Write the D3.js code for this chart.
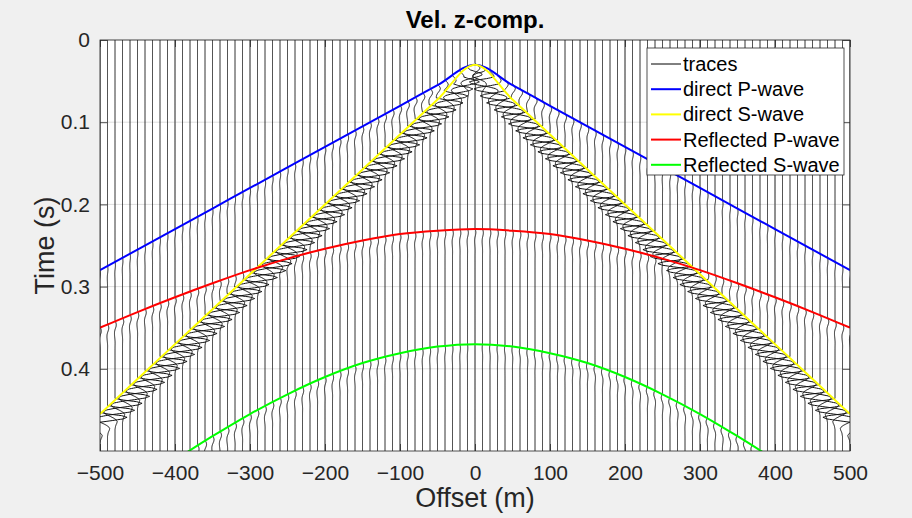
<!DOCTYPE html>
<html>
<head>
<meta charset="utf-8">
<script src="https://cdn.jsdelivr.net/npm/d3@7"></script>
<style>
  html, body { margin: 0; padding: 0; background: #f0f0f0; }
  svg { display: block; font-family: "Liberation Sans", Arial, sans-serif; }
</style>
</head>
<body>
<svg id="chart" width="912" height="518"></svg>
<script>
// ---------------- DATA ----------------
const titleText = "Vel. z-comp.";
const xLabel = "Offset (m)";
const yLabel = "Time (s)";
const xTicks = [-500, -400, -300, -200, -100, 0, 100, 200, 300, 400, 500];
const yTicks = [0, 0.1, 0.2, 0.3, 0.4];

// receiver offsets of the plotted traces (m)
const traceOffsets = [
  -500,-490,-480,-470,-460,-450,-440,-430,-420,-410,
  -400,-390,-380,-370,-360,-350,-340,-330,-320,-310,
  -300,-290,-280,-270,-260,-250,-240,-230,-220,-210,
  -200,-190,-180,-170,-160,-150,-140,-130,-120,-110,
  -100,-90,-80,-70,-60,-50,-40,-30,-20,-10,
  0,10,20,30,40,50,60,70,80,90,
  100,110,120,130,140,150,160,170,180,190,
  200,210,220,230,240,250,260,270,280,290,
  300,310,320,330,340,350,360,370,380,390,
  400,410,420,430,440,450,460,470,480,490,500
];

// offsets at which the travel-time curves are read (m)
const curveOffsets = [-500,-450,-400,-350,-300,-250,-200,-150,-100,-50,0,50,100,150,200,250,300,350,400,450,500];
// travel times (s)
const directP = [0.280,0.255,0.230,0.205,0.180,0.155,0.130,0.105,0.080,0.055,0.030,0.055,0.080,0.105,0.130,0.155,0.180,0.205,0.230,0.255,0.280];
const directS = [0.455,0.4125,0.370,0.3275,0.285,0.2425,0.200,0.1575,0.115,0.0725,0.030,0.0725,0.115,0.1575,0.200,0.2425,0.285,0.3275,0.370,0.4125,0.455];
const reflectedP = [0.350,0.331,0.313,0.296,0.280,0.266,0.254,0.244,0.236,0.232,0.230,0.232,0.236,0.244,0.254,0.266,0.280,0.296,0.313,0.331,0.350];
const reflectedS = [0.574,0.542,0.511,0.482,0.455,0.431,0.410,0.393,0.381,0.373,0.370,0.373,0.381,0.393,0.410,0.431,0.455,0.482,0.511,0.542,0.574];

// wiggle amplitudes of each arrival versus |offset|
const ampAbsOffsets = [0, 10, 20, 50, 100, 200, 300, 400, 500];
const ampDirectP    = [0.35, 0.32, 0.28, 0.20, 0.12, 0.06, 0.04, 0.03, 0.03];
const ampDirectS    = [0.00, 0.85, 1.40, 1.80, 1.90, 1.90, 1.90, 1.90, 1.90];
const ampReflP      = [0.06, 0.06, 0.06, 0.06, 0.07, 0.08, 0.09, 0.09, 0.09];
const ampReflS      = [0.01, 0.02, 0.03, 0.04, 0.06, 0.08, 0.10, 0.12, 0.12];

// source wavelet samples read from the wiggles (2 ms spacing, from the arrival)
const waveletTimes   = [0,0.002,0.004,0.006,0.008,0.010,0.012,0.014,0.016,0.018,0.020,0.022,0.024,0.026,0.028,0.030,0.032,0.034,0.036,0.038,0.040];
const waveletSamples = [0,0.30,0.80,1.00,0.85,0.45,0.00,-0.30,-0.42,-0.40,-0.30,-0.17,-0.05,0.04,0.08,0.07,0.04,0.02,0.01,0,0];
const waveletDelay = -0.002; // s, wavelet onset relative to the picked arrival

const timeSamples = d3.range(0, 0.5005, 0.0005); // sampling grid of the traces

const legendItems = [
  {label: "traces", color: "#000000", width: 1},
  {label: "direct P-wave", color: "#0000ff", width: 2},
  {label: "direct S-wave", color: "#ffff00", width: 2},
  {label: "Reflected P-wave", color: "#ff0000", width: 2},
  {label: "Reflected S-wave", color: "#00ff00", width: 2}
];

// ---------------- CHART ----------------
const svg = d3.select("#chart");
const L = 100, R = 850, T = 40, B = 451;
const x = d3.scaleLinear().domain([-500, 500]).range([L, R]);
const y = d3.scaleLinear().domain([0, 0.5]).range([T, B]);
const axisColor = "#262626";

svg.append("rect").attr("x", L).attr("y", T).attr("width", R - L).attr("height", B - T).attr("fill", "#ffffff");

svg.append("defs").append("clipPath").attr("id", "plotclip")
  .append("rect").attr("x", L).attr("y", T).attr("width", R - L).attr("height", B - T);

// grid
const grid = svg.append("g");
grid.selectAll(".gx").data(xTicks).enter().append("line")
  .attr("x1", d => x(d)).attr("x2", d => x(d)).attr("y1", T).attr("y2", B)
  .attr("stroke", "#dedede").attr("stroke-width", 1);
grid.selectAll(".gy").data(yTicks).enter().append("line")
  .attr("x1", L).attr("x2", R).attr("y1", d => y(d)).attr("y2", d => y(d))
  .attr("stroke", "#dedede").attr("stroke-width", 1);

// arrival time lookups
const tDP = d3.scaleLinear().domain(curveOffsets).range(directP);
const tDS = d3.scaleLinear().domain(curveOffsets).range(directS);
const tRP = d3.scaleLinear().domain(curveOffsets).range(reflectedP);
const tRS = d3.scaleLinear().domain(curveOffsets).range(reflectedS);
const aDP = d3.scaleLinear().domain(ampAbsOffsets).range(ampDirectP).clamp(true);
const aDS = d3.scaleLinear().domain(ampAbsOffsets).range(ampDirectS).clamp(true);
const aRP = d3.scaleLinear().domain(ampAbsOffsets).range(ampReflP).clamp(true);
const aRS = d3.scaleLinear().domain(ampAbsOffsets).range(ampReflS).clamp(true);
const wav = d3.scaleLinear().domain(waveletTimes).range(waveletSamples).clamp(true);
const wavelet = tau => {
  const u = tau - waveletDelay;
  return (u < waveletTimes[0] || u > waveletTimes[waveletTimes.length - 1]) ? 0 : wav(u);
};

const wiggleScale = 19; // metres of offset per unit amplitude

const traceLine = d3.line().x(d => x(d[0])).y(d => y(d[1]));
const traces = svg.append("g").attr("clip-path", "url(#plotclip)");
traceOffsets.forEach(off => {
  const s = Math.sign(off);
  const a = Math.abs(off);
  const pts = timeSamples.map(t => {
    const v = aDP(a) * wavelet(t - tDP(off))
            - s * aDS(a) * wavelet(t - tDS(off))
            + aRP(a) * wavelet(t - tRP(off))
            - s * aRS(a) * wavelet(t - tRS(off));
    return [off + wiggleScale * v, t];
  });
  traces.append("path").attr("d", traceLine(pts))
    .attr("fill", "none").attr("stroke", "#111").attr("stroke-width", 1);
});

// travel-time curves
const curveLine = d3.line().x(d => x(d[0])).y(d => y(d[1])).curve(d3.curveMonotoneX);
const curves = svg.append("g").attr("clip-path", "url(#plotclip)");
[[directP, "#0000ff"], [directS, "#ffff00"], [reflectedP, "#ff0000"], [reflectedS, "#00ff00"]].forEach(([vals, col]) => {
  curves.append("path").attr("d", curveLine(curveOffsets.map((o, i) => [o, vals[i]])))
    .attr("fill", "none").attr("stroke", col).attr("stroke-width", 2);
});

// axes
const fontSize = 21;
const xAxis = d3.axisBottom(x).tickValues(xTicks).tickSizeInner(-7).tickSizeOuter(0).tickPadding(14).tickFormat(d3.format("d"));
const gx = svg.append("g").attr("transform", `translate(0,${B})`).call(xAxis);
const yAxis = d3.axisLeft(y).tickValues(yTicks).tickSizeInner(-7).tickSizeOuter(0).tickPadding(10).tickFormat(d => d === 0 ? "0" : d3.format(".1f")(d));
const gy = svg.append("g").attr("transform", `translate(${L},0)`).call(yAxis);
const gxt = svg.append("g").attr("transform", `translate(0,${T})`).call(d3.axisTop(x).tickValues(xTicks).tickSizeInner(-7).tickSizeOuter(0).tickFormat(""));
const gyr = svg.append("g").attr("transform", `translate(${R},0)`).call(d3.axisRight(y).tickValues(yTicks).tickSizeInner(-7).tickSizeOuter(0).tickFormat(""));
[gx, gy, gxt, gyr].forEach(g => {
  g.select(".domain").remove();
  g.selectAll(".tick line").attr("stroke", axisColor).attr("stroke-width", 0.8);
  g.selectAll(".tick text").attr("fill", axisColor).attr("font-size", fontSize).attr("font-family", "Liberation Sans, Arial, sans-serif");
});
svg.append("rect").attr("x", L).attr("y", T).attr("width", R - L).attr("height", B - T)
  .attr("fill", "none").attr("stroke", axisColor).attr("stroke-width", 0.8);

// labels
svg.append("text").attr("x", (L + R) / 2).attr("y", 28).attr("text-anchor", "middle")
  .attr("font-size", 24).attr("font-weight", "bold").attr("fill", "#000").text(titleText);
svg.append("text").attr("x", (L + R) / 2).attr("y", 507).attr("text-anchor", "middle")
  .attr("font-size", 27).attr("fill", axisColor).text(xLabel);
svg.append("text").attr("transform", `translate(54,${(T + B) / 2}) rotate(-90)`).attr("text-anchor", "middle")
  .attr("font-size", 27).attr("fill", axisColor).text(yLabel);

// legend
const lg = svg.append("g").attr("transform", "translate(647,48)");
lg.append("rect").attr("width", 197).attr("height", 127).attr("fill", "#fff").attr("stroke", axisColor).attr("stroke-width", 0.8);
legendItems.forEach((it, i) => {
  const yy = 16 + i * 25.2;
  lg.append("line").attr("x1", 4).attr("x2", 34).attr("y1", yy).attr("y2", yy)
    .attr("stroke", it.color).attr("stroke-width", it.width);
  lg.append("text").attr("x", 36).attr("y", yy + 7).attr("font-size", 20).attr("fill", "#000").text(it.label);
});
</script>
</body>
</html>
